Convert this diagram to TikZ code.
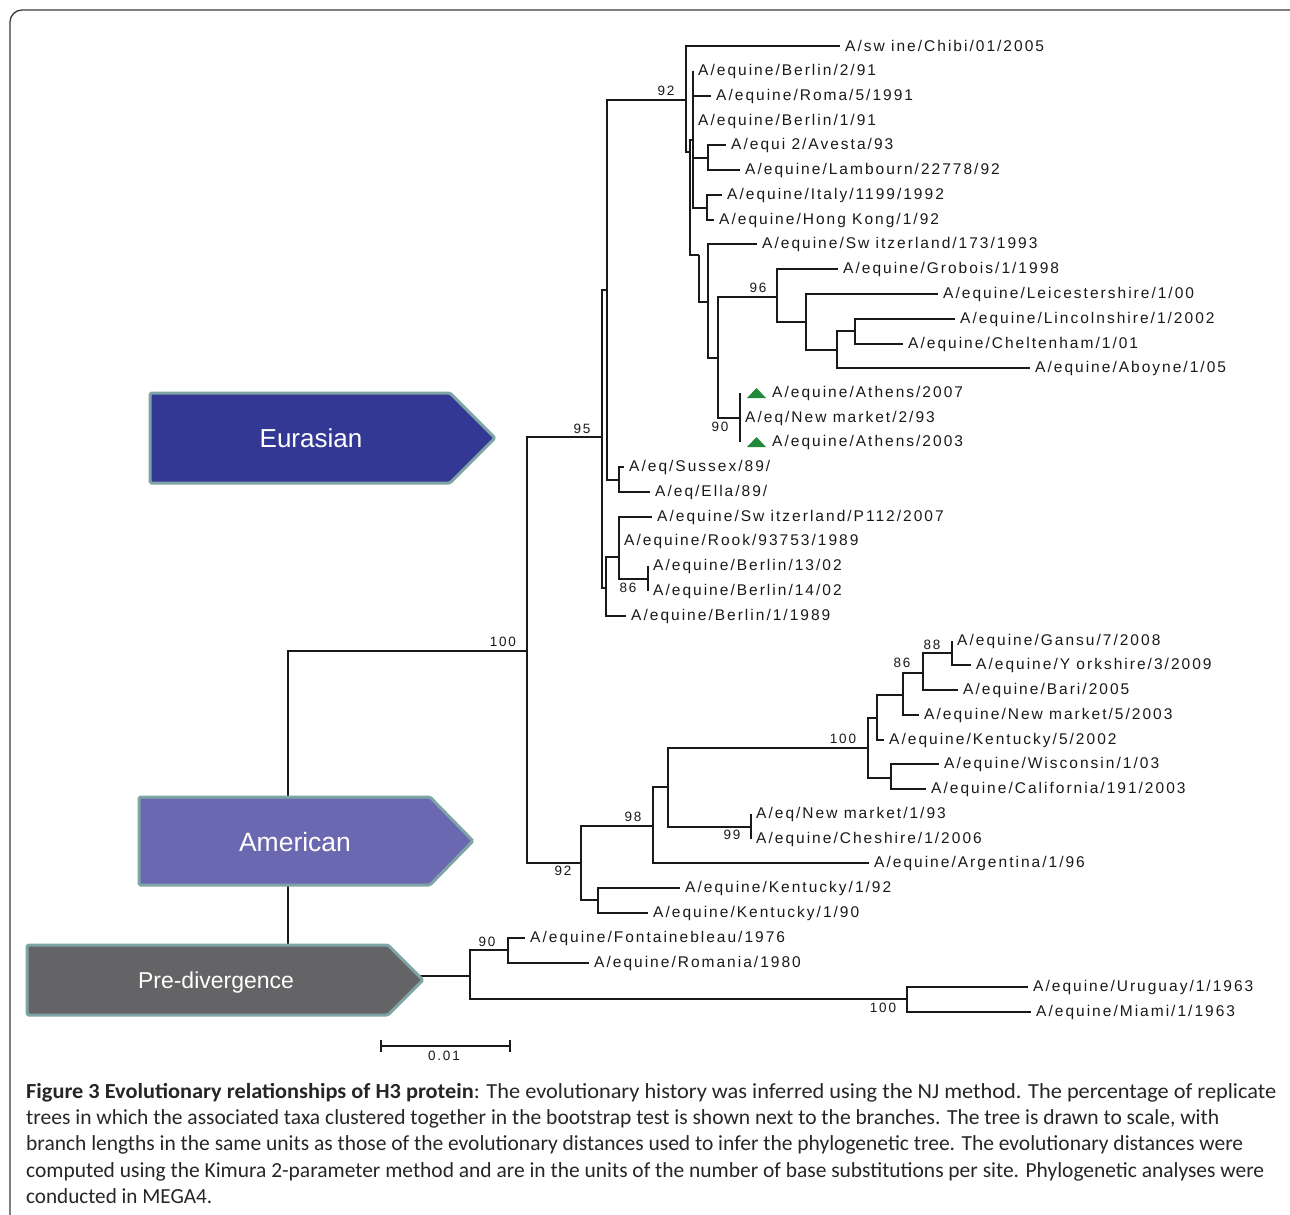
\documentclass[tikz,border=0pt]{standalone}
\usepackage{fontspec}
\usepackage{graphicx}
\setmainfont{Liberation Sans}
\newfontfamily\treefont[LetterSpace=13]{Liberation Sans}
\newfontfamily\capfont{Carlito}
\usetikzlibrary{calc}
\definecolor{eurasia}{HTML}{333894}
\definecolor{amer}{HTML}{6A68B0}
\definecolor{predv}{HTML}{646466}
\definecolor{arrowedge}{HTML}{7FA4A5}
\definecolor{triG}{HTML}{23893A}
\definecolor{framec}{HTML}{3A3A3A}
\newcommand{\fitline}[2]{\resizebox{#1}{\height}{#2}}
\begin{document}
\begin{tikzpicture}[x=1pt,y=-1pt,
  br/.style={draw=black!90, line width=1.2pt},
  leaf/.style={anchor=west, inner xsep=5pt, inner ysep=0pt, text=black!90, font=\treefont\fontsize{15.5}{16}\selectfont},
  boot/.style={inner sep=0pt, text=black!90, font=\treefont\fontsize{13.5}{14}\selectfont},
  clade/.style={draw=arrowedge, line width=3pt, rounded corners=1.5pt},
  cladetext/.style={text=white, inner sep=0pt},
  captext/.style={anchor=base west, inner sep=0pt, text=black!85, font=\capfont\fontsize{21.5}{26}\selectfont}]
\useasboundingbox (0,0) rectangle (1290,1215);
\clip (0,0) rectangle (1290,1215);
% frame
\draw[framec, line width=1.3pt, rounded corners=12pt] (10,1260) -- (10,10) -- (1320,10);

% ---------- internal coordinates ----------
\coordinate (root) at (288,976);
\coordinate (n100) at (527,651);
\coordinate (e95) at (602,437);
\coordinate (U) at (607,290);
\coordinate (L) at (606,588);
\coordinate (n92) at (686,100);
\coordinate (N2) at (690,152);
\coordinate (P) at (693,140);
\coordinate (AL) at (708,158);
\coordinate (IH) at (707,208);
\coordinate (Q) at (699,255);
\coordinate (R) at (708,302);
\coordinate (S) at (718,358);
\coordinate (n96) at (777,297);
\coordinate (c2) at (806,322);
\coordinate (c3) at (837,350);
\coordinate (c4) at (855,331);
\coordinate (ath) at (740,418);
\coordinate (SE) at (619,480);
\coordinate (M) at (619,557);
\coordinate (B14) at (648,579);
\coordinate (n92b) at (581,863);
\coordinate (n98) at (653,826);
\coordinate (n68) at (668,787);
\coordinate (n100b) at (868,748);
\coordinate (n877) at (877,718);
\coordinate (n903) at (903,695);
\coordinate (n923) at (923,673);
\coordinate (n88) at (952,653);
\coordinate (WC) at (891,778);
\coordinate (n99) at (751,827);
\coordinate (KY) at (598,900);
\coordinate (pre) at (470,976);
\coordinate (n90) at (508,950);
\coordinate (n100c) at (907,999);

% ---------- leaves ----------
\node[leaf] (chibi) at (840,46) {A/sw ine/Chibi/01/2005};
\node[leaf] (ber291) at (693,71) {A/equine/Berlin/2/91};
\node[leaf] (roma) at (711,96) {A/equine/Roma/5/1991};
\node[leaf] (ber191) at (693,121) {A/equine/Berlin/1/91};
\node[leaf] (avesta) at (726,145) {A/equi 2/Avesta/93};
\node[leaf] (lamb) at (740,170) {A/equine/Lambourn/22778/92};
\node[leaf] (italy) at (722,195) {A/equine/Italy/1199/1992};
\node[leaf] (hk) at (714,220) {A/equine/Hong Kong/1/92};
\node[leaf] (swi173) at (757,244) {A/equine/Sw itzerland/173/1993};
\node[leaf] (grob) at (838,269) {A/equine/Grobois/1/1998};
\node[leaf] (leic) at (938,294) {A/equine/Leicestershire/1/00};
\node[leaf] (linc) at (955,319) {A/equine/Lincolnshire/1/2002};
\node[leaf] (chelt) at (903,344) {A/equine/Cheltenham/1/01};
\node[leaf] (aboy) at (1030,368) {A/equine/Aboyne/1/05};
\node[leaf] (ath07) at (740,393) {\hspace*{27pt}A/equine/Athens/2007};
\node[leaf] (nm293) at (740,418) {A/eq/New market/2/93};
\node[leaf] (ath03) at (740,442) {\hspace*{27pt}A/equine/Athens/2003};
\node[leaf] (suss) at (624,467) {A/eq/Sussex/89/};
\node[leaf] (ella) at (650,492) {A/eq/Ella/89/};
\node[leaf] (swp112) at (652,517) {A/equine/Sw itzerland/P112/2007};
\node[leaf] (rook) at (619,541) {A/equine/Rook/93753/1989};
\node[leaf] (ber1302) at (648,566) {A/equine/Berlin/13/02};
\node[leaf] (ber1402) at (648,591) {A/equine/Berlin/14/02};
\node[leaf] (ber89) at (626,616) {A/equine/Berlin/1/1989};
\node[leaf] (gansu) at (952,641) {A/equine/Gansu/7/2008};
\node[leaf] (york) at (971,665) {A/equine/Y orkshire/3/2009};
\node[leaf] (bari) at (958,690) {A/equine/Bari/2005};
\node[leaf] (nm503) at (919,715) {A/equine/New market/5/2003};
\node[leaf] (ky502) at (884,740) {A/equine/Kentucky/5/2002};
\node[leaf] (wisc) at (939,764) {A/equine/Wisconsin/1/03};
\node[leaf] (calif) at (926,789) {A/equine/California/191/2003};
\node[leaf] (nm193) at (751,814) {A/eq/New market/1/93};
\node[leaf] (chesh) at (751,839) {A/equine/Cheshire/1/2006};
\node[leaf] (arg) at (869,863) {A/equine/Argentina/1/96};
\node[leaf] (ky192) at (680,888) {A/equine/Kentucky/1/92};
\node[leaf] (ky190) at (648,913) {A/equine/Kentucky/1/90};
\node[leaf] (font) at (525,938) {A/equine/Fontainebleau/1976};
\node[leaf] (rom80) at (589,963) {A/equine/Romania/1980};
\node[leaf] (urug) at (1028,987) {A/equine/Uruguay/1/1963};
\node[leaf] (miami) at (1031,1012) {A/equine/Miami/1/1963};

% triangles
\fill[triG] ($(ath07.west)+(7,5)$) -- ++(19,0) -- ++(-9.5,-10) -- cycle;
\fill[triG] ($(ath03.west)+(7,5)$) -- ++(19,0) -- ++(-9.5,-10) -- cycle;

% ---------- branches ----------
\draw[br] (root) |- (n100);
\draw[br] (root) -- (pre);
\draw[br] (n100) |- (e95);
\draw[br] (n100) |- (n92b);
\draw[br] (e95) |- (U);
\draw[br] (e95) |- (L);
\draw[br] (U) |- (n92);
\draw[br] (U) |- (SE);
\draw[br] (n92) |- (chibi.west);
\draw[br] (n92) |- (N2);
\draw[br] (N2) |- (P);
\draw[br] (N2) |- (Q);
\draw[br] (P) |- (ber291.west);
\draw[br] (P) |- (roma.west);
\draw[br] (P) |- (ber191.west);
\draw[br] (P) |- (AL);
\draw[br] (P) |- (IH);
\draw[br] (AL) |- (avesta.west);
\draw[br] (AL) |- (lamb.west);
\draw[br] (IH) |- (italy.west);
\draw[br] (IH) |- (hk.west);
\draw[br] (Q) |- (R);
\draw[br] (R) |- (swi173.west);
\draw[br] (R) |- (S);
\draw[br] (S) |- (n96);
\draw[br] (S) |- (ath);
\draw[br] (n96) |- (grob.west);
\draw[br] (n96) |- (c2);
\draw[br] (c2) |- (leic.west);
\draw[br] (c2) |- (c3);
\draw[br] (c3) |- (c4);
\draw[br] (c3) |- (aboy.west);
\draw[br] (c4) |- (linc.west);
\draw[br] (c4) |- (chelt.west);
\draw[br] (ath) |- (ath07.west);
\draw[br] (ath) |- (nm293.west);
\draw[br] (ath) |- (ath03.west);
\draw[br] (SE) |- (suss.west);
\draw[br] (SE) |- (ella.west);
\draw[br] (L) |- (M);
\draw[br] (L) |- (ber89.west);
\draw[br] (M) |- (swp112.west);
\draw[br] (M) |- (rook.west);
\draw[br] (M) |- (B14);
\draw[br] (B14) |- (ber1302.west);
\draw[br] (B14) |- (ber1402.west);
\draw[br] (n92b) |- (n98);
\draw[br] (n92b) |- (KY);
\draw[br] (n98) |- (n68);
\draw[br] (n98) |- (arg.west);
\draw[br] (n68) |- (n100b);
\draw[br] (n68) |- (n99);
\draw[br] (n100b) |- (n877);
\draw[br] (n100b) |- (WC);
\draw[br] (n877) |- (n903);
\draw[br] (n877) |- (ky502.west);
\draw[br] (n903) |- (n923);
\draw[br] (n903) |- (nm503.west);
\draw[br] (n923) |- (n88);
\draw[br] (n923) |- (bari.west);
\draw[br] (n88) |- (gansu.west);
\draw[br] (n88) |- (york.west);
\draw[br] (WC) |- (wisc.west);
\draw[br] (WC) |- (calif.west);
\draw[br] (n99) |- (nm193.west);
\draw[br] (n99) |- (chesh.west);
\draw[br] (KY) |- (ky192.west);
\draw[br] (KY) |- (ky190.west);
\draw[br] (pre) |- (n90);
\draw[br] (pre) |- (n100c);
\draw[br] (n90) |- (font.west);
\draw[br] (n90) |- (rom80.west);
\draw[br] (n100c) |- (urug.west);
\draw[br] (n100c) |- (miami.west);

% ---------- bootstrap values ----------
\node[boot] (b1) at (666,91) {92};
\node[boot] (b2) at (758,288) {96};
\node[boot] (b3) at (720,427) {90};
\node[boot] (b4) at (582,429) {95};
\node[boot] (b5) at (628,588) {86};
\node[boot] (b6) at (503,642) {100};
\node[boot] (b7) at (932,645) {88};
\node[boot] (b8) at (902,663) {86};
\node[boot] (b9) at (843,739) {100};
\node[boot] (b10) at (633,817) {98};
\node[boot] (b11) at (732,835) {99};
\node[boot] (b12) at (563,871) {92};
\node[boot] (b13) at (487,942) {90};
\node[boot] (b14) at (883,1008) {100};

% ---------- scale bar ----------
\coordinate (sb1) at (381,1046);
\coordinate (sb2) at (510,1046);
\draw[br] (sb1) -- (sb2);
\draw[br] ($(sb1)+(0,-6)$) -- ($(sb1)+(0,6)$);
\draw[br] ($(sb2)+(0,-6)$) -- ($(sb2)+(0,6)$);
\node[boot] (sblab) at (444,1056) {0.01};

% ---------- clade arrows ----------
\draw[clade, fill=eurasia] (150,393) -- (450,393) -- (495,438) -- (450,483) -- (150,483) -- cycle;
\node[cladetext, font=\fontsize{26}{30}\selectfont] (eur) at (311,438) {Eurasian};
\draw[clade, fill=amer] (139,797) -- (430,797) -- (473,841) -- (430,885) -- (139,885) -- cycle;
\node[cladetext, font=\fontsize{26.5}{30}\selectfont] (ame) at (295,842) {American};
\draw[clade, fill=predv] (27,945) -- (388,945) -- (423,980) -- (388,1015) -- (27,1015) -- cycle;
\node[cladetext, font=\fontsize{23}{26}\selectfont] (prd) at (216,983) {Pre-divergence};

% ---------- caption ----------
\node[captext] (cap1) at (26,1098) {\fitline{1250pt}{\textbf{Figure 3 Evolutionary relationships of H3 protein}: The evolutionary history was inferred using the NJ method. The percentage of replicate}};
\node[captext] (cap2) at (26,1124) {\fitline{1193pt}{trees in which the associated taxa clustered together in the bootstrap test is shown next to the branches. The tree is drawn to scale, with}};
\node[captext] (cap3) at (26,1150) {\fitline{1217pt}{branch lengths in the same units as those of the evolutionary distances used to infer the phylogenetic tree. The evolutionary distances were}};
\node[captext] (cap4) at (26,1177) {\fitline{1238pt}{computed using the Kimura 2-parameter method and are in the units of the number of base substitutions per site. Phylogenetic analyses were}};
\node[captext] (cap5) at (26,1203) {\fitline{186pt}{conducted in MEGA4.}};
\end{tikzpicture}
\end{document}
